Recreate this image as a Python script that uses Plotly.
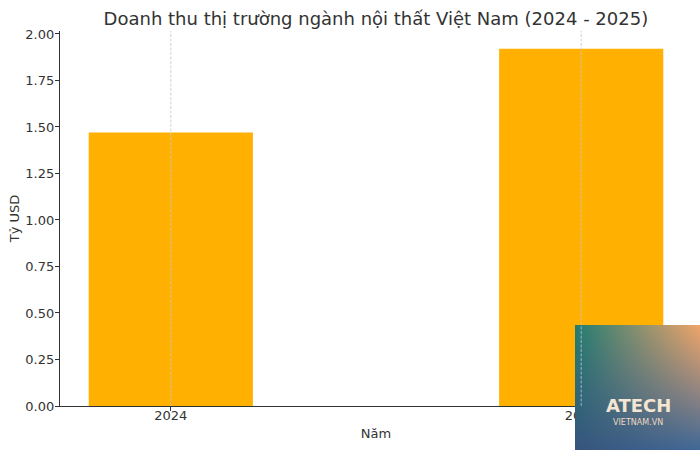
import base64, struct, zlib
import numpy as np
import plotly.graph_objects as go

years = [2024, 2025]
revenue = [1.47, 1.92]
y_ticks = [0, 0.25, 0.5, 0.75, 1.0, 1.25, 1.5, 1.75, 2.0]

title = "Doanh thu thị trường ngành nội thất Việt Nam (2024 - 2025)"
x_title = "Năm"
y_title = "Tỷ USD"

# ---- logo-like gradient image (watermark) ----
def gradient_png(w, h):
    tl = np.array([35, 125, 115], float)
    tr = np.array([240, 165, 105], float)
    bl = np.array([55, 85, 125], float)
    br = np.array([65, 105, 150], float)
    yy, xx = np.mgrid[0:h, 0:w]
    u = (xx / (w - 1))[..., None]
    v = (yy / (h - 1))[..., None]
    img = (tl * (1 - u) * (1 - v) + tr * u * (1 - v) + bl * (1 - u) * v + br * u * v)
    img = img.clip(0, 255).astype(np.uint8)
    raw = b"".join(b"\x00" + img[r].tobytes() for r in range(h))
    def chunk(t, d):
        c = struct.pack(">I", len(d)) + t + d
        return c + struct.pack(">I", zlib.crc32(t + d) & 0xffffffff)
    png = b"\x89PNG\r\n\x1a\n" + chunk(b"IHDR", struct.pack(">IIBBBBB", w, h, 8, 2, 0, 0, 0))
    png += chunk(b"IDAT", zlib.compress(raw)) + chunk(b"IEND", b"")
    return "data:image/png;base64," + base64.b64encode(png).decode()

font = "DejaVu Sans"
txt = "#333333"

fig = go.Figure(go.Bar(x=years, y=revenue, width=0.4, marker=dict(color="#FFB000", line=dict(width=0))))

for yr in years:
    fig.add_vline(x=yr, line=dict(color="#c8c8c8", width=0.8, dash="3px,1.5px"), layer="above")

fig.update_layout(
    width=700, height=450,
    margin=dict(l=60, r=8, t=31, b=44, autoexpand=False),
    plot_bgcolor="white", paper_bgcolor="white",
    font=dict(family=font, size=13, color=txt),
    title=dict(text=title, x=0.537, xanchor="center", y=0.958, yanchor="middle",
               font=dict(size=18, color=txt)),
    showlegend=False,
    xaxis=dict(range=[2023.73, 2025.27], tickvals=years, ticktext=[str(y) for y in years],
               showline=True, linecolor=txt, linewidth=1.2, ticks="outside", ticklen=4,
               tickcolor=txt, showgrid=False, zeroline=False, automargin=False,
               ticklabelstandoff=-7,
               title=dict(text=x_title, font=dict(size=13, color=txt), standoff=7)),
    yaxis=dict(range=[0, 2.016], tickvals=y_ticks, tickformat=".2f",
               showline=True, linecolor=txt, linewidth=1.2, ticks="outside", ticklen=4,
               tickcolor=txt, showgrid=False, zeroline=False, automargin=False,
               ticklabelstandoff=-2,
               title=dict(text=y_title, font=dict(size=13, color=txt), standoff=2)),
    images=[dict(source=gradient_png(125, 125), xref="paper", yref="paper",
                 x=(575 - 60) / 632, y=(450 - 325 - 44) / 375, sizex=125 / 632, sizey=125 / 375,
                 xanchor="left", yanchor="top", sizing="stretch", layer="above")],
    annotations=[
        dict(text="<b>ATECH</b>", xref="paper", yref="paper", xanchor="center", yanchor="middle",
             x=(638 - 60) / 632, y=(450 - 405 - 44) / 375, showarrow=False,
             font=dict(size=18, color="#f4e6d2", family=font)),
        dict(text="VIETNAM.VN", xref="paper", yref="paper", xanchor="center", yanchor="middle",
             x=(638 - 60) / 632, y=(450 - 422 - 44) / 375, showarrow=False,
             font=dict(size=8, color="#f0d8c0", family=font)),
    ],
)

fig.write_html("out.html", config={"displayModeBar": False},
               post_script="document.body.style.margin='0';")
